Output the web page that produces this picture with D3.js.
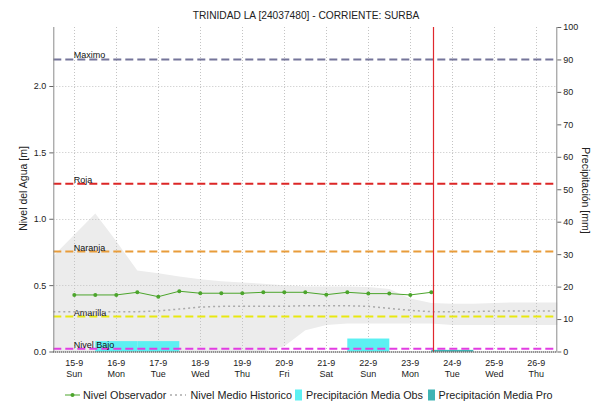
<!DOCTYPE html>
<html>
<head>
<meta charset="utf-8">
<script src="https://cdn.jsdelivr.net/npm/d3@7"></script>
<style>
  body { margin: 0; background: #fff; }
  svg { display: block; font-family: "Liberation Sans", Arial, sans-serif; }
</style>
</head>
<body>
<svg id="chart" width="593" height="403"></svg>
<script>
// ---- data ----
const title = "TRINIDAD LA [24037480] - CORRIENTE: SURBA";

const dayDates = ["2019-09-15","2019-09-16","2019-09-17","2019-09-18","2019-09-19","2019-09-20",
                  "2019-09-21","2019-09-22","2019-09-23","2019-09-24","2019-09-25","2019-09-26"];
const dayLabels = ["15-9","16-9","17-9","18-9","19-9","20-9","21-9","22-9","23-9","24-9","25-9","26-9"];
const weekdayLabels = ["Sun","Mon","Tue","Wed","Thu","Fri","Sat","Sun","Mon","Tue","Wed","Thu"];

const levelTicks = [0, 0.5, 1.0, 1.5, 2.0];
const rainTicks = [0, 10, 20, 30, 40, 50, 60, 70, 80, 90, 100];

// observed water level every 12 h from 15-9 00:00
const obsStart = "2019-09-15T00:00:00Z";
const obsLevel = [0.426, 0.426, 0.426, 0.446, 0.413, 0.454, 0.439, 0.439, 0.439,
                  0.446, 0.446, 0.446, 0.428, 0.446, 0.436, 0.436, 0.426, 0.446];

// historical statistics every 12 h from 14-9 12:00
const histStart = "2019-09-14T12:00:00Z";
const histMean = [0.30, 0.30, 0.30, 0.30, 0.30, 0.305, 0.32, 0.335, 0.34, 0.34, 0.34, 0.34,
                  0.345, 0.345, 0.345, 0.34, 0.325, 0.31, 0.30, 0.30, 0.30, 0.305, 0.305, 0.305, 0.305];
const histHigh = [0.72, 0.88, 1.04, 0.83, 0.61, 0.59, 0.565, 0.545, 0.53, 0.52, 0.51, 0.50,
                  0.49, 0.49, 0.49, 0.485, 0.47, 0.40, 0.365, 0.36, 0.36, 0.365, 0.37, 0.37, 0.37];
const histLow  = [0, 0, 0, 0, 0, 0, 0, 0, 0, 0, 0, 0.04,
                  0.16, 0.20, 0.21, 0.21, 0.21, 0.21, 0.21, 0.20, 0.20, 0.20, 0.20, 0.20, 0.20];

// daily precipitation [mm]
const rainObsDays = ["2019-09-16", "2019-09-17", "2019-09-22"];
const rainObsMm   = [3.2, 3.2, 4.0];
const rainProDays = ["2019-09-24"];
const rainProMm   = [0.5];

// alert thresholds [m]
const thresholdNames  = ["Maximo", "Roja", "Naranja", "Amarilla", "Nivel Bajo"];
const thresholdLevels = [2.2, 1.264, 0.753, 0.263, 0.02];
const thresholdColors = ["#75759a", "#dc2626", "#e89c3a", "#e8e810", "#e23ce2"];

const nowTime = "2019-09-23T13:00:00Z";

const legendNames = ["Nivel Observador", "Nivel Medio Historico", "Precipitación Media Obs", "Precipitación Media Pro"];

// ---- layout ----
const svg = d3.select("#chart");
const plotL = 53.3, plotR = 557.3, plotT = 27, plotB = 351.5;
const HOUR = 3600 * 1000;

const x = d3.scaleUtc()
  .domain([new Date("2019-09-14T12:00:00Z"), new Date("2019-09-26T12:00:00Z")])
  .range([plotL, plotR]);
const y = d3.scaleLinear().domain([0, 2.2 / 0.9]).range([plotB, plotT]);
const yR = d3.scaleLinear().domain([0, 100]).range([plotB, plotT]);

const obsT0 = new Date(obsStart).getTime();
const histT0 = new Date(histStart).getTime();
const obs = obsLevel.map((v, i) => ({ t: new Date(obsT0 + i * 12 * HOUR), v }));
const hist = histMean.map((v, i) => ({ t: new Date(histT0 + i * 12 * HOUR), m: v, lo: histLow[i], hi: histHigh[i] }));
const days = dayDates.map(d => new Date(d + "T00:00:00Z"));

const colors = {
  band: "#ececec", grid: "#c4c4c4", hist: "#aaaaaa", obs: "#4ca52c",
  rainObs: "#5cf0f2", rainPro: "#3fb4b4", now: "#e0282e", axis: "#8a8a8a", text: "#222"
};

// historical band
svg.append("path")
  .datum(hist)
  .attr("fill", colors.band)
  .attr("d", d3.area().x(d => x(d.t)).y0(d => y(d.lo)).y1(d => y(d.hi)));

// grid
const grid = svg.append("g").attr("stroke", colors.grid).attr("stroke-dasharray", "1,2").attr("stroke-width", 1);
grid.selectAll("line.v").data(days).join("line")
  .attr("x1", d => Math.round(x(d)) + 0.5).attr("x2", d => Math.round(x(d)) + 0.5)
  .attr("y1", plotT).attr("y2", plotB);
grid.selectAll("line.h").data(levelTicks.filter(v => v > 0)).join("line")
  .attr("x1", plotL).attr("x2", plotR)
  .attr("y1", d => Math.round(y(d)) + 0.5).attr("y2", d => Math.round(y(d)) + 0.5);

// precipitation bars (one day wide, centred on the day)
function bars(daysArr, mmArr, fill) {
  svg.append("g").selectAll("rect")
    .data(daysArr.map((d, i) => ({ t: new Date(d + "T00:00:00Z"), mm: mmArr[i] })))
    .join("rect")
    .attr("x", d => x(new Date(d.t.getTime() - 12 * HOUR)))
    .attr("width", d => x(new Date(d.t.getTime() + 12 * HOUR)) - x(new Date(d.t.getTime() - 12 * HOUR)))
    .attr("y", d => yR(d.mm))
    .attr("height", d => yR(0) - yR(d.mm))
    .attr("fill", fill);
}
bars(rainObsDays, rainObsMm, colors.rainObs);
bars(rainProDays, rainProMm, colors.rainPro);

// thresholds
const th = svg.append("g");
thresholdLevels.forEach((lv, i) => {
  th.append("line")
    .attr("x1", plotL).attr("x2", plotR)
    .attr("y1", y(lv)).attr("y2", y(lv))
    .attr("stroke", thresholdColors[i]).attr("stroke-width", 2)
    .attr("stroke-dasharray", "8,4");
});

// historical mean
svg.append("path")
  .datum(hist)
  .attr("fill", "none").attr("stroke", colors.hist).attr("stroke-width", 1.5)
  .attr("stroke-dasharray", "2,3")
  .attr("d", d3.line().x(d => x(d.t)).y(d => y(d.m)));

// threshold labels
thresholdLevels.forEach((lv, i) => {
  th.append("text")
    .attr("x", x(days[0]) - 0.5).attr("y", y(lv) - 1)
    .attr("font-size", 9).attr("fill", "#111")
    .text(thresholdNames[i]);
});

// observed level
svg.append("path")
  .datum(obs)
  .attr("fill", "none").attr("stroke", colors.obs).attr("stroke-width", 1)
  .attr("d", d3.line().x(d => x(d.t)).y(d => y(d.v)));
svg.append("g").selectAll("circle").data(obs).join("circle")
  .attr("cx", d => x(d.t)).attr("cy", d => y(d.v)).attr("r", 2)
  .attr("fill", colors.obs);

// current time marker
const nowX = Math.round(x(new Date(nowTime))) + 0.5;
svg.append("line")
  .attr("x1", nowX).attr("x2", nowX)
  .attr("y1", plotT).attr("y2", plotB)
  .attr("stroke", colors.now).attr("stroke-width", 1.2);

// axes
const leftAxis = svg.append("g").attr("transform", `translate(${plotL},0)`)
  .call(d3.axisLeft(y).tickValues(levelTicks).tickFormat(d3.format(".1f")).tickSize(4).tickPadding(3));
const rightAxis = svg.append("g").attr("transform", `translate(${plotR},0)`)
  .call(d3.axisRight(yR).tickValues(rainTicks).tickSize(4).tickPadding(2));
leftAxis.select(".domain").attr("stroke", colors.axis).attr("d", `M0.5,${plotT}V${plotB}`);
rightAxis.select(".domain").attr("stroke", colors.axis).attr("d", `M-0.5,${plotT}V${plotB}`);
[leftAxis, rightAxis].forEach(g => {
  g.selectAll(".tick line").attr("stroke", "#666");
  g.selectAll(".tick text").attr("font-size", 9).attr("fill", colors.text)
    .attr("font-family", "Liberation Sans, Arial, sans-serif");
});

// bottom axis (dotted baseline) and day labels
svg.append("line")
  .attr("x1", plotL).attr("x2", plotR).attr("y1", plotB + 0.5).attr("y2", plotB + 0.5)
  .attr("stroke", "#333").attr("stroke-width", 1.5).attr("stroke-dasharray", "1,1");
const xl = svg.append("g").attr("font-size", 9).attr("fill", colors.text).attr("text-anchor", "middle");
xl.selectAll("text.d").data(days).join("text")
  .attr("class", "d")
  .attr("x", d => x(d)).attr("y", 365.5).text((d, i) => dayLabels[i]);
xl.selectAll("text.w").data(days).join("text")
  .attr("class", "w")
  .attr("x", d => x(d)).attr("y", 376.5).text((d, i) => weekdayLabels[i]);

// title and axis titles
svg.append("text").attr("x", 306).attr("y", 19).attr("text-anchor", "middle")
  .attr("font-size", 10.2).attr("fill", colors.text).text(title);
svg.append("text").attr("transform", "translate(27,188.5) rotate(-90)").attr("text-anchor", "middle")
  .attr("font-size", 10.5).attr("fill", colors.text).text("Nivel del Agua [m]");
svg.append("text").attr("transform", "translate(582,190.5) rotate(90)").attr("text-anchor", "middle")
  .attr("font-size", 10.5).attr("fill", colors.text).text("Precipitación [mm]");

// legend
const lg = svg.append("g").attr("font-size", 10.8).attr("fill", colors.text);
const ly = 395;
lg.append("line").attr("x1", 65).attr("x2", 80).attr("y1", ly).attr("y2", ly)
  .attr("stroke", colors.obs).attr("stroke-width", 1);
lg.append("circle").attr("cx", 72.5).attr("cy", ly).attr("r", 2).attr("fill", colors.obs);
lg.append("text").attr("x", 83).attr("y", ly + 3.8).text(legendNames[0]);
lg.append("line").attr("x1", 170).attr("x2", 186).attr("y1", ly).attr("y2", ly)
  .attr("stroke", colors.hist).attr("stroke-width", 1.5).attr("stroke-dasharray", "2,3");
lg.append("text").attr("x", 190.5).attr("y", ly + 3.8).text(legendNames[1]);
lg.append("rect").attr("x", 295).attr("y", ly - 5.5).attr("width", 7).attr("height", 11).attr("fill", colors.rainObs);
lg.append("text").attr("x", 306).attr("y", ly + 3.8).text(legendNames[2]);
lg.append("rect").attr("x", 428).attr("y", ly - 5.5).attr("width", 7).attr("height", 11).attr("fill", colors.rainPro);
lg.append("text").attr("x", 438.5).attr("y", ly + 3.8).text(legendNames[3]);
</script>
</body>
</html>
